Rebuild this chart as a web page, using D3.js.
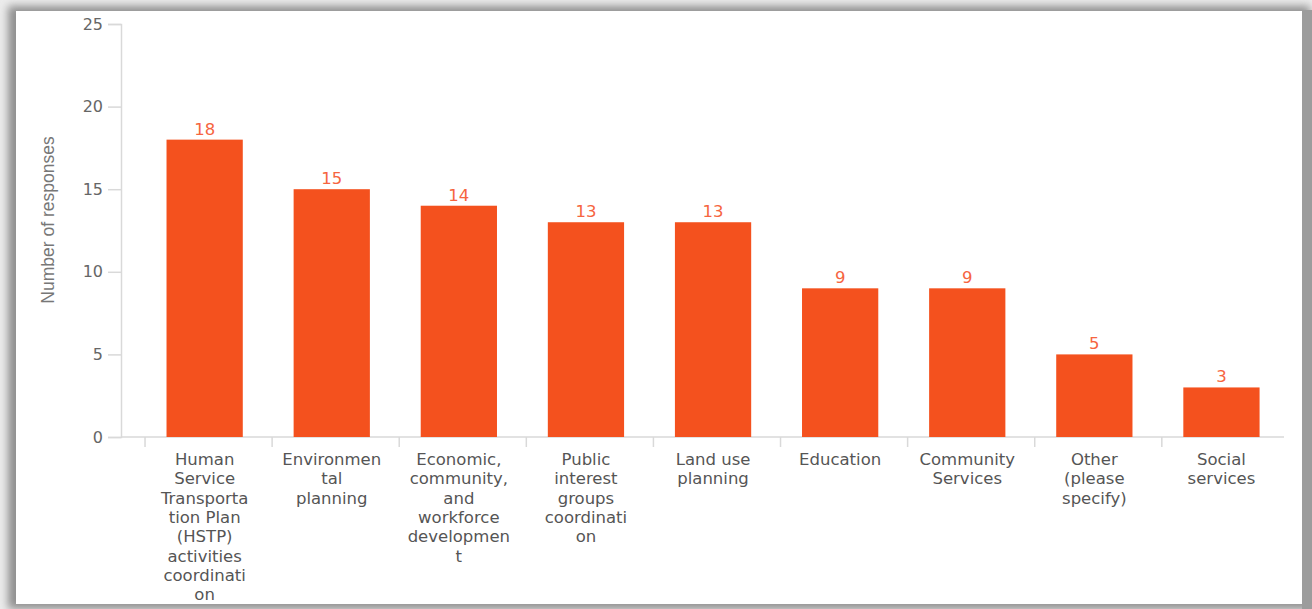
<!DOCTYPE html>
<html>
<head>
<meta charset="utf-8">
<script src="https://cdn.jsdelivr.net/npm/d3@7"></script>
<style>
  html, body { margin: 0; padding: 0; background: #ffffff; }
  svg { display: block; }
</style>
</head>
<body>
<svg id="chart" width="1312" height="609"></svg>
<script>
// Survey responses per coordination activity
const categories = [
  "Human Service Transportation Plan (HSTP) activities coordination",
  "Environmental planning",
  "Economic, community, and workforce development",
  "Public interest groups coordination",
  "Land use planning",
  "Education",
  "Community Services",
  "Other (please specify)",
  "Social services"
];
const responses = [18, 15, 14, 13, 13, 9, 9, 5, 3];

// Category labels as they wrap under each bar
const categoryLines = [
  ["Human", "Service", "Transporta", "tion Plan", "(HSTP)", "activities", "coordinati", "on"],
  ["Environmen", "tal", "planning"],
  ["Economic,", "community,", "and", "workforce", "developmen", "t"],
  ["Public", "interest", "groups", "coordinati", "on"],
  ["Land use", "planning"],
  ["Education"],
  ["Community", "Services"],
  ["Other", "(please", "specify)"],
  ["Social", "services"]
];
const yTicks = [0, 5, 10, 15, 20, 25];
const yTitle = "Number of responses";

const W = 1312, H = 609;
const svg = d3.select("#chart");

// Card with soft grey shadow around it
const defs = svg.append("defs");
const f = defs.append("filter").attr("id", "shadow")
  .attr("x", "-5%").attr("y", "-5%").attr("width", "110%").attr("height", "110%");
f.append("feGaussianBlur").attr("stdDeviation", 4);

svg.append("rect").attr("width", W).attr("height", H).attr("fill", "#ececec");
svg.append("rect")
  .attr("x", 8).attr("y", 6).attr("width", 1302).attr("height", 603)
  .attr("fill", "#8f8f8f").attr("filter", "url(#shadow)");
svg.append("rect")
  .attr("x", 1302).attr("y", 10).attr("width", 10).attr("height", 599)
  .attr("fill", "#9c9c9c");
svg.append("rect")
  .attr("x", 16).attr("y", 11).attr("width", 1286).attr("height", 593)
  .attr("fill", "#ffffff");

const axisX0 = 121, axisX1 = 1284;
const y = d3.scaleLinear().domain([0, 25]).range([437, 24]);
const x = d3.scaleBand().domain(categories).range([141.1, 1285]).paddingInner(0.4).paddingOuter(0.2);

const labelFont = "'DejaVu Sans', 'Open Sans', sans-serif";

// Y axis
const yAxis = svg.append("g")
  .attr("transform", `translate(${axisX0},0)`)
  .call(d3.axisLeft(y).tickValues(yTicks).tickSize(13).tickPadding(5));
yAxis.select(".domain").attr("stroke", "#d9d9d9").attr("stroke-width", 1.5);
yAxis.selectAll(".tick line").attr("stroke", "#d9d9d9").attr("stroke-width", 1.5);
yAxis.selectAll(".tick text")
  .attr("fill", "#666").style("font-family", labelFont).style("font-size", "16px");

// X axis baseline and band separators
svg.append("line")
  .attr("x1", axisX0).attr("x2", axisX1)
  .attr("y1", y(0)).attr("y2", y(0))
  .attr("stroke", "#d9d9d9").attr("stroke-width", 1.5);
svg.append("g").selectAll("line")
  .data(categories)
  .join("line")
  .attr("x1", d => x(d) - 21.5)
  .attr("x2", d => x(d) - 21.5)
  .attr("y1", y(0)).attr("y2", y(0) + 10)
  .attr("stroke", "#d9d9d9").attr("stroke-width", 1.5);

// Bars
svg.append("g").selectAll("rect")
  .data(categories)
  .join("rect")
  .attr("x", d => x(d))
  .attr("width", x.bandwidth())
  .attr("y", (d, i) => y(responses[i]))
  .attr("height", (d, i) => y(0) - y(responses[i]))
  .attr("fill", "#f4511e");

// Value labels
svg.append("g").selectAll("text")
  .data(categories)
  .join("text")
  .attr("x", d => x(d) + x.bandwidth() / 2)
  .attr("y", (d, i) => y(responses[i]) - 5)
  .attr("text-anchor", "middle")
  .attr("fill", "#f6653f")
  .style("font-family", labelFont)
  .style("font-size", "16.5px")
  .text((d, i) => responses[i]);

// Category labels
const catG = svg.append("g").selectAll("text")
  .data(categories)
  .join("text")
  .attr("text-anchor", "middle")
  .attr("fill", "#555")
  .style("font-family", labelFont)
  .style("font-size", "16.5px");
catG.each(function (d, i) {
  const t = d3.select(this);
  categoryLines[i].forEach((line, j) => {
    t.append("tspan")
      .attr("x", x(d) + x.bandwidth() / 2)
      .attr("y", 465 + j * 19.3)
      .text(line);
  });
});

// Y axis title
svg.append("text")
  .attr("transform", "translate(54,220) rotate(-90)")
  .attr("text-anchor", "middle")
  .attr("fill", "#777")
  .style("font-family", "'Liberation Sans', Arial, sans-serif")
  .style("font-size", "17.5px")
  .text(yTitle);
</script>
</body>
</html>
